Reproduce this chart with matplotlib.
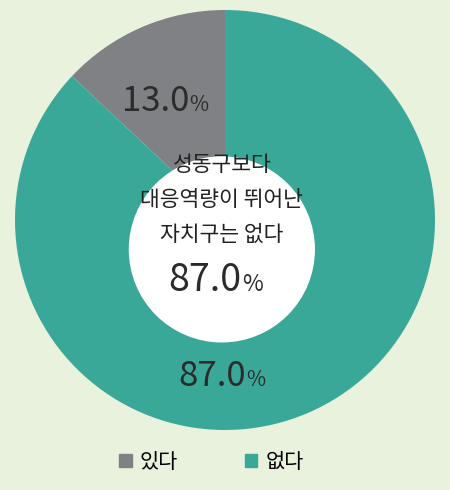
import matplotlib
matplotlib.use("Agg")
import matplotlib.pyplot as plt
from matplotlib.patches import Circle

labels = ["있다", "없다"]
values = [13.0, 87.0]
colors = ["#808184", "#3aa898"]
center_lines = ["성동구보다", "대응역량이 뛰어난", "자치구는 없다"]
center_value = 87.0

plt.rcParams['font.family'] = ['Noto Sans CJK KR', 'DejaVu Sans']
bg = "#e9f2dd"
fig = plt.figure(figsize=(4.5, 4.9), dpi=100, facecolor=bg)
ax = fig.add_axes([15/450, 60/490, 420/450, 420/490])
ax.set_facecolor(bg)
ax.pie(values, colors=colors, startangle=90, counterclock=True, radius=1.0,
       wedgeprops=dict(linewidth=0))
ax.set_xlim(-1, 1); ax.set_ylim(-1, 1); ax.set_aspect('equal'); ax.axis('off')

ax.add_patch(Circle((-0.015, -0.14), 0.44, color="white", zorder=5))

def pct(x, y, v, size):
    ax.text(x, y, f"{v:.1f}", ha='right', va='baseline', fontsize=size, color="#2b2b2b", zorder=6,
            fontweight='light')
    ax.text(x, y, "%", ha='left', va='baseline', fontsize=size*0.6, color="#2b2b2b", zorder=6)

pct(0.08, -0.34, center_value, 27)
pct(-0.17, 0.52, values[0], 25)
pct(0.1, -0.79, values[1], 25)
for i, s in enumerate(center_lines):
    ax.text(-0.015, 0.26 - i*0.165, s, ha='center', va='center', fontsize=15.5, color="#222", zorder=6)

h = [plt.Rectangle((0, 0), 1, 1, color=c) for c in colors]
fig.legend(h, labels, loc='center', bbox_to_anchor=(0.47, 28/490), ncol=2, frameon=False,
           fontsize=15, handlelength=0.6, handleheight=0.6, columnspacing=3.2, handletextpad=0.4)
fig.savefig("out.png", dpi=100, facecolor=bg)
